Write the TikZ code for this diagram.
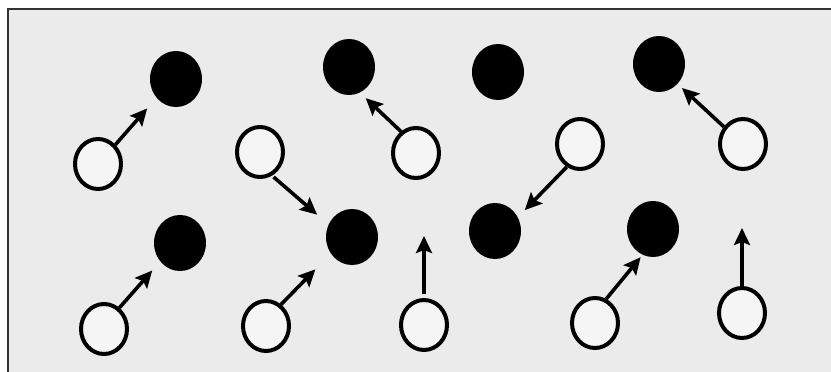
\documentclass[tikz,border=0pt]{standalone}
\usetikzlibrary{shapes.geometric,arrows.meta}
\begin{document}
\begin{tikzpicture}[x=1pt,y=-1pt,
  blk/.style={ellipse,fill=black,inner sep=0pt,minimum width=52pt,minimum height=56pt},
  wht/.style={ellipse,draw=black,line width=4pt,fill=white!96!black,inner sep=0pt,minimum width=46pt,minimum height=50pt},
  arr/.style={line width=3.6pt,-{Stealth[length=17pt,width=16pt,inset=3pt]}}]
\useasboundingbox (0,0) rectangle (831,372);
\fill[black!8] (8,9) rectangle (831,372);
\draw[black!80,line width=2.6pt] (8,372) -- (8,9) -- (831,9);
% black circles
\node[blk] (BA) at (176,79) {};
\node[blk] (BB) at (349,67) {};
\node[blk] (BD) at (498,72) {};
\node[blk] (BE) at (659,64) {};
\node[blk] (BF) at (180,243) {};
\node[blk] (BG) at (352,237) {};
\node[blk] (BH) at (495,231) {};
\node[blk] (BI) at (653,229) {};
% white circles
\node[wht] (WA) at (98,164) {};
\node[wht] (WB) at (260,152) {};
\node[wht] (WC) at (416,153) {};
\node[wht] (WD) at (580,144) {};
\node[wht] (WE) at (743,144) {};
\node[wht] (WF) at (104,329) {};
\node[wht] (WG) at (266,326) {};
\node[wht] (WH) at (424,325) {};
\node[wht] (WI) at (595,323) {};
\node[wht] (WJ) at (742,313) {};
\coordinate (TH) at (424,236);
\coordinate (TJ) at (742,228);
% arrows
\draw[arr,shorten >=14pt] (WA.48) -- (BA.224);
\draw[arr,shorten >=8pt] (WC.125) -- (BB.293);
\draw[arr,shorten <=2pt,shorten >=15pt] (WB.297) -- (BG.152);
\draw[arr,shorten >=10pt] (WD.240) -- (BH.31);
\draw[arr,shorten >=6pt] (WE.138) -- (BE.313);
\draw[arr,shorten >=12pt] (WF.54) -- (BF.223);
\draw[arr,shorten >=22pt] (WG.55) -- (BG.218);
\draw[arr,shorten <=4pt] (WH) -- (TH);
\draw[arr,shorten >=3pt] (WI.65) -- (BI.248);
\draw[arr] (WJ) -- (TJ);
\end{tikzpicture}
\end{document}
